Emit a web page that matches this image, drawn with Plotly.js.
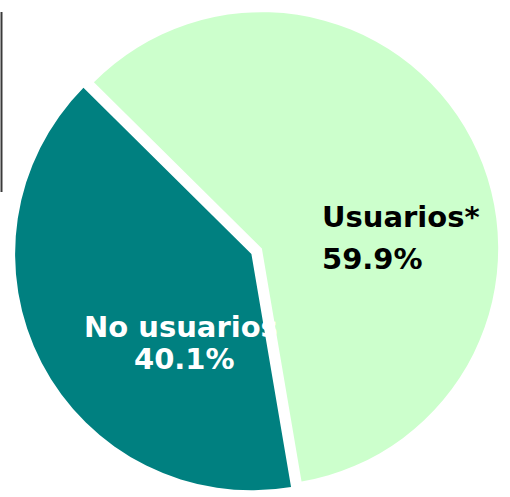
<!DOCTYPE html>
<html>
<head>
<meta charset="utf-8">
<script src="https://cdn.plot.ly/plotly-3.0.1.min.js"></script>
<style>html,body{margin:0;padding:0;background:#fff;}#chart{width:510px;height:497px;}</style>
</head>
<body>
<div id="chart"></div>
<script>
// Data
const categories = ['Usuarios*', 'No usuarios'];
const shares = [59.9, 40.1];
const sliceColors = ['#CCFFCC', '#008080'];
const labelColors = ['#000000', '#FFFFFF'];
const pulls = [0, 0.05];

const pctText = shares.map(v => v.toFixed(1) + '%');

const trace = {
  type: 'pie',
  labels: categories,
  values: shares,
  sort: false,
  direction: 'clockwise',
  rotation: -45.3,
  pull: pulls,
  marker: {colors: sliceColors, line: {width: 0}},
  textinfo: 'none',
  hoverinfo: 'label+percent',
  domain: {x: [0.027, 1], y: [0, 1]}
};

const W = 510, H = 497;
const px = (x) => x / W;
const py = (y) => 1 - y / H;
const fnt = (c) => ({family: 'DejaVu Sans, Verdana, sans-serif', size: 29, color: c, weight: 'bold'});

// label placements (pixel positions)
const labelPos = [
  {name: [320.5, 217.5, 'left'], pct: [321, 259, 'left']},
  {name: [181, 326.7, 'center'], pct: [184, 359, 'center']}
];

const annotations = [];
categories.forEach((c, i) => {
  const p = labelPos[i];
  annotations.push({text: c, xref: 'paper', yref: 'paper', x: px(p.name[0]), y: py(p.name[1]),
    xanchor: p.name[2], yanchor: 'middle', showarrow: false, borderpad: 0, font: fnt(labelColors[i])});
  annotations.push({text: pctText[i], xref: 'paper', yref: 'paper', x: px(p.pct[0]), y: py(p.pct[1]),
    xanchor: p.pct[2], yanchor: 'middle', showarrow: false, borderpad: 0, font: fnt(labelColors[i])});
});

const layout = {
  width: W, height: H,
  margin: {l: 0, r: 0, t: 0, b: 0},
  paper_bgcolor: '#ffffff',
  showlegend: false,
  annotations: annotations,
  shapes: [{type: 'line', xref: 'paper', yref: 'paper', x0: px(1.5), x1: px(1.5), y0: py(12), y1: py(192),
    line: {color: '#3a3a3a', width: 2}}]
};

Plotly.newPlot('chart', [trace], layout, {displayModeBar: false, staticPlot: true});
</script>
</body>
</html>
